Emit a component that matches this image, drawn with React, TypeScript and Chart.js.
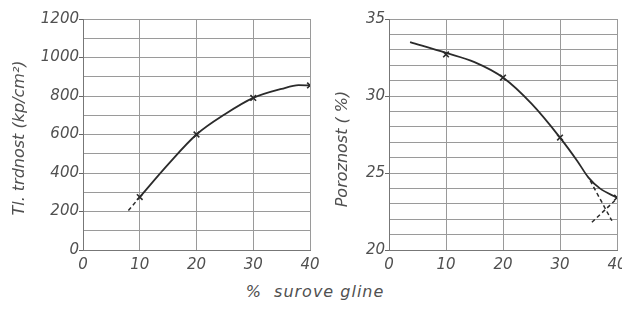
import React, { useEffect, useRef } from "react";
import { Chart, registerables } from "chart.js";

Chart.register(...registerables);

// Left panel: tensile strength vs % raw clay
const strengthMeasuredX = [10, 20, 30, 40];
const strengthMeasuredY = [275, 600, 790, 855];
const strengthCurveX = [10, 15, 20, 25, 30, 35, 38, 40];
const strengthCurveY = [275, 445, 600, 705, 790, 837, 856, 855];
const strengthExtX = [8, 10];
const strengthExtY = [205, 275];

// Right panel: porosity vs % raw clay
const porosityMeasuredX = [10, 20, 30, 40];
const porosityMeasuredY = [32.7, 31.2, 27.3, 23.4];
const porosityCurveX = [3.7, 10, 15, 20, 25, 30, 33, 35, 37, 40];
const porosityCurveY = [33.5, 32.8, 32.2, 31.2, 29.5, 27.3, 25.8, 24.7, 24.0, 23.4];
const porosityDashAX = [35.3, 39.1];
const porosityDashAY = [24.5, 21.9];
const porosityDashBX = [35.6, 39.6];
const porosityDashBY = [21.8, 23.2];

const xTicks = [0, 10, 20, 30, 40];
const strengthLabelTicks = [0, 200, 400, 600, 800, 1000, 1200];
const porosityLabelTicks = [20, 25, 30, 35];

const xTitle = "%  surove gline";
const strengthTitle = "Tl. trdnost (kp/cm²)";
const porosityTitle = "Poroznost ( %)";

const FONT = "'DejaVu Sans', sans-serif";
const TEXT = "#505050";
const GRID = "#9a9a9a";
const INK = "#2b2b2b";

const zip = (xs: number[], ys: number[]) => xs.map((x, i) => ({ x, y: ys[i] }));

// draws the rotated y-axis title at a given spot of the canvas
const yTitlePlugin = {
  id: "ytitle",
  afterDraw(chart: any, _args: any, opts: any) {
    if (!opts || !opts.text) return;
    const ctx = chart.ctx;
    ctx.save();
    ctx.translate(opts.x, opts.y);
    ctx.rotate(-Math.PI / 2);
    ctx.font = `italic 16px ${FONT}`;
    ctx.fillStyle = TEXT;
    ctx.textAlign = "center";
    ctx.textBaseline = "middle";
    ctx.fillText(opts.text, 0, 0);
    ctx.restore();
  },
};

function makeConfig(opts: {
  datasets: any[];
  yMin: number;
  yMax: number;
  yStep: number;
  yLabels: number[];
  yTitle: string;
  yWidth: number;
  titleX: number;
  titleY: number;
  padRight: number;
}): any {
  return {
    type: "line",
    data: { datasets: opts.datasets },
    plugins: [yTitlePlugin],
    options: {
      animation: false,
      responsive: false,
      devicePixelRatio: 1,
      layout: { padding: { left: 0, right: opts.padRight, top: 19, bottom: 0 } },
      plugins: {
        legend: { display: false },
        tooltip: { enabled: false },
        ytitle: { text: opts.yTitle, x: opts.titleX, y: opts.titleY },
      },
      scales: {
        x: {
          type: "linear",
          min: 0,
          max: 40,
          afterBuildTicks: (s: any) => {
            s.ticks = xTicks.map((v) => ({ value: v }));
          },
          afterFit: (s: any) => {
            s.height = 30;
            s.paddingLeft = 0;
            s.paddingRight = 0;
          },
          grid: { color: GRID, lineWidth: 1, drawTicks: false },
          border: { color: "#777", width: 1 },
          ticks: {
            padding: 6,
            color: TEXT,
            font: { family: FONT, size: 15, style: "italic" },
            maxRotation: 0,
            callback: (v: any) => String(v),
          },
        },
        y: {
          type: "linear",
          min: opts.yMin,
          max: opts.yMax,
          afterFit: (s: any) => {
            s.width = opts.yWidth;
            s.paddingTop = 0;
            s.paddingBottom = 0;
          },
          grid: {
            color: GRID,
            lineWidth: 1,
            tickLength: 4,
            tickColor: (ctx: any) =>
              ctx.tick && opts.yLabels.includes(Math.round(ctx.tick.value * 100) / 100)
                ? "#666"
                : "rgba(0,0,0,0)",
          },
          border: { color: "#777", width: 1 },
          ticks: {
            stepSize: opts.yStep,
            padding: 0,
            autoSkip: false,
            color: TEXT,
            font: { family: FONT, size: 15, style: "italic" },
            callback: (v: any) =>
              opts.yLabels.includes(Math.round(v * 100) / 100) ? String(v) : "",
          },
        },
      },
    },
  };
}

const curveStyle = {
  borderColor: INK,
  borderWidth: 1.8,
  pointRadius: 0,
  fill: false,
  cubicInterpolationMode: "monotone",
};
const dashStyle = {
  borderColor: INK,
  borderWidth: 1.5,
  borderDash: [4, 3],
  pointRadius: 0,
  fill: false,
  tension: 0,
};
const markerStyle = {
  showLine: false,
  pointStyle: "crossRot",
  pointRadius: 4,
  pointBorderColor: INK,
  pointBorderWidth: 1.6,
  borderColor: INK,
};

export default function App() {
  const leftRef = useRef<HTMLCanvasElement>(null);
  const rightRef = useRef<HTMLCanvasElement>(null);

  useEffect(() => {
    const left = new Chart(
      leftRef.current!,
      makeConfig({
        datasets: [
          { ...curveStyle, data: zip(strengthCurveX, strengthCurveY) },
          { ...dashStyle, data: zip(strengthExtX, strengthExtY) },
          { ...markerStyle, data: zip(strengthMeasuredX, strengthMeasuredY) },
        ],
        yMin: 0,
        yMax: 1200,
        yStep: 100,
        yLabels: strengthLabelTicks,
        yTitle: strengthTitle,
        yWidth: 83,
        titleX: 20,
        titleY: 138,
        padRight: 10,
      })
    );
    const right = new Chart(
      rightRef.current!,
      makeConfig({
        datasets: [
          { ...curveStyle, data: zip(porosityCurveX, porosityCurveY) },
          { ...dashStyle, data: zip(porosityDashAX, porosityDashAY) },
          { ...dashStyle, data: zip(porosityDashBX, porosityDashBY) },
          { ...markerStyle, data: zip(porosityMeasuredX, porosityMeasuredY) },
        ],
        yMin: 20,
        yMax: 35,
        yStep: 1,
        yLabels: porosityLabelTicks,
        yTitle: porosityTitle,
        yWidth: 73,
        titleX: 27,
        titleY: 149,
        padRight: 19,
      })
    );
    return () => {
      left.destroy();
      right.destroy();
    };
  }, []);

  return (
    <div
      style={{
        position: "fixed",
        left: 0,
        top: 0,
        width: 622,
        height: 322,
        overflow: "hidden",
        background: "#fff",
      }}
    >
      <canvas
        ref={leftRef}
        width={320}
        height={280}
        style={{ position: "absolute", left: 0, top: 0, width: 320, height: 280 }}
      />
      <canvas
        ref={rightRef}
        width={320}
        height={280}
        style={{ position: "absolute", left: 316, top: 0, width: 320, height: 280 }}
      />
      <div
        style={{
          position: "absolute",
          left: 0,
          width: 630,
          top: 282,
          textAlign: "center",
          fontFamily: FONT,
          fontStyle: "italic",
          fontSize: 16,
          color: TEXT,
          whiteSpace: "pre",
          letterSpacing: 1,
        }}
      >
        {xTitle}
      </div>
    </div>
  );
}
